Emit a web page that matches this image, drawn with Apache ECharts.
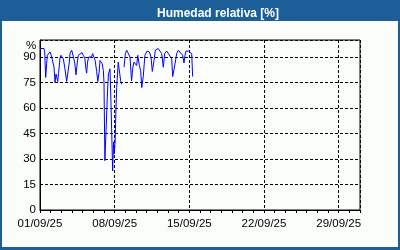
<!DOCTYPE html>
<html>
<head>
<meta charset="utf-8">
<script src="https://cdn.jsdelivr.net/npm/echarts@6/dist/echarts.min.js"></script>
<style>
html,body{margin:0;padding:0;width:400px;height:250px;overflow:hidden;}
#frame{position:absolute;left:0;top:0;width:400px;height:250px;background:#1c5f98;}
#inner{position:absolute;left:2px;top:21px;width:396px;height:226px;background:#fbfdfb;}
#chart{position:absolute;left:0;top:0;width:400px;height:250px;}
</style>
</head>
<body>
<div id="frame"><div id="inner"></div></div>
<div id="chart"></div>
<script>
// hours since 01/09/25 00:00
const hours = [0,9,10.6,12.8,15,16.4,19.6,22.5,25.4,27,28.6,31.5,33.8,36,37.5,39.8,42,45,47.3,49.5,52.4,55.6,60,63,66,67.5,71.3,75,78,81,84,86.3,90,94.5,97.5,99,101,103.5,105,107,109.5,112.5,116,118.5,121.5,124,127.5,130,133,135,138,140,142.5,144,146,150,152,154,157.5,160,163.5,165.5,167,169,171,172.5,176,178.5,181.5,184,186,189,192,195,198.7,202.5,206,209,211.5,214.5,217.5,220,223.5,226.5,229,232.5,236,240.8,246,249.8,252.7,256.5,259.5,262.5,266,273.8,277.5,280.5,285,288.8,296.3,298.5,300,303.8,307.5,311.3,315,321,324,326.3,328.5,333.8,341.3,343.5,347];
const humidity = [95,95,93,78,86,91,92,93,91,92,90,84,75,80,79,75.6,81,89.5,91,90,89,84,75.6,74.7,87,92,94,93,87,79.5,87,91,92,92.6,91,92,89,82.5,80.5,87,90,91,90,92,91,88,81.5,75.6,81,88,88,86,82,75,29,29,70,80,83,60,23,40,33,40,60,72,87,86,76,74,null,84,92,94,93,90,76,84,87,86,85,91,85,82,72,79,91,93.5,93,90,81.5,88,94,95,95,92,84,92,93.5,93.5,89,78.5,78,86,92,94,94,91,86.5,91,93.5,93.5,92,78.5];
const xTickLabels = ['01/09/25','08/09/25','15/09/25','22/09/25','29/09/25'];
const yTicks = [0,15,30,45,60,75,90];
const yUnit = '%';

const data = hours.map((h,i)=>[h, humidity[i]]);
const font = 'Liberation Sans';
const chart = echarts.init(document.getElementById('chart'), null, {renderer:'canvas'});
chart.setOption({
  backgroundColor: 'transparent',
  animation: false,
  title: {
    text: 'Humedad relativa [%]',
    left: 152, top: 3,
    textStyle: {color:'#ffffff', fontWeight:'bold', fontSize:12, fontFamily:font}
  },
  graphic: [{
    type:'text', left:26, top:40,
    style:{text:yUnit, fill:'#000', fontSize:11.5, fontFamily:font}
  }],
  grid: {left:40, right:40, top:40, bottom:40, show:true, borderColor:'#000', borderWidth:1, backgroundColor:'transparent'},
  xAxis: [{
    type:'value', min:0, max:720, interval:24,
    axisLine:{show:true, lineStyle:{color:'#000', width:1}},
    axisTick:{show:true, length:3, lineStyle:{color:'#000'}},
    splitLine:{show:false},
    axisLabel:{
      color:'#000', fontSize:11.5, fontFamily:font, margin:8,
      formatter: v => (v % 168 === 0 && v/168 < xTickLabels.length) ? xTickLabels[v/168] : ''
    }
  },{
    type:'value', min:0, max:720, interval:168, position:'bottom',
    axisLine:{show:false}, axisTick:{show:false}, axisLabel:{show:false},
    splitLine:{show:true, lineStyle:{color:'#000', type:[3,2], width:1}}
  }],
  yAxis: {
    type:'value', min:0, max:100, interval:15,
    axisLine:{show:true, lineStyle:{color:'#000', width:1}},
    axisTick:{show:false},
    splitLine:{show:true, lineStyle:{color:'#000', type:[3,2], width:1}},
    axisLabel:{
      color:'#000', fontSize:11.5, fontFamily:font, margin:4,
      formatter: v => (yTicks.indexOf(v) >= 0 ? String(v) : '')
    }
  },
  series: [{
    type:'line', xAxisIndex:0, data: data, showSymbol:false, connectNulls:false,
    lineStyle:{color:'#0000ff', width:1}, itemStyle:{color:'#0000ff'}
  }]
});
</script>
</body>
</html>
